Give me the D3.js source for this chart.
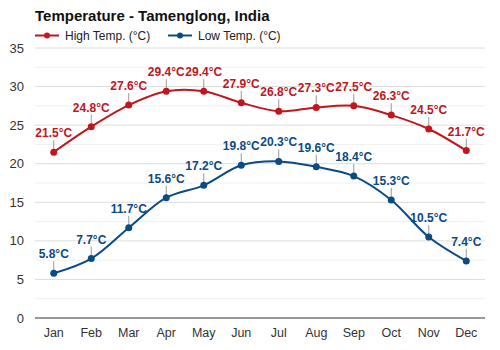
<!DOCTYPE html>
<html><head><meta charset="utf-8">
<script src="https://cdn.jsdelivr.net/npm/d3@7"></script>
<style>body{margin:0;background:#fff}svg{display:block;font-family:Arial,"Liberation Sans",sans-serif}</style>
</head><body>
<svg id="c" width="500" height="350"></svg>
<script>
const months = ["Jan","Feb","Mar","Apr","May","Jun","Jul","Aug","Sep","Oct","Nov","Dec"];
const highTemps = [21.5,24.8,27.6,29.4,29.4,27.9,26.8,27.3,27.5,26.3,24.5,21.7];
const lowTemps = [5.8,7.7,11.7,15.6,17.2,19.8,20.3,19.6,18.4,15.3,10.5,7.4];
const yTicks = [0,5,10,15,20,25,30,35];
const minorTicks = [2.5,7.5,12.5,17.5,22.5,27.5,32.5];
const seriesNames = ["High Temp. (°C)","Low Temp. (°C)"];
const colors = ["#c0161e","#0b4a82"];

(function(){
const svg = d3.select("#c");
const pl = 35, pr = 485, pt = 48, pb = 318;
const x = d3.scaleBand().domain(months).range([pl, pr]);
const y = d3.scaleLinear().domain([0,35]).range([pb, pt]);
const cx = m => x(m) + x.bandwidth()/2;

svg.append("rect").attr("width",500).attr("height",350).attr("fill","#fff");

svg.append("g").selectAll("line").data(minorTicks).join("line")
  .attr("x1",pl).attr("x2",pr).attr("y1",d=>y(d)).attr("y2",d=>y(d))
  .attr("stroke","#f0f0f0").attr("stroke-width",1);
svg.append("g").selectAll("line").data(yTicks.filter(d=>d>0)).join("line")
  .attr("x1",pl).attr("x2",pr).attr("y1",d=>y(d)).attr("y2",d=>y(d))
  .attr("stroke","#dcdcdc").attr("stroke-width",1);
svg.append("line").attr("x1",pl).attr("x2",pr).attr("y1",y(0)).attr("y2",y(0))
  .attr("stroke","#333").attr("stroke-width",1.2);

svg.append("g").selectAll("text").data(yTicks).join("text")
  .attr("x",24).attr("y",d=>y(d)+4.5).attr("text-anchor","end")
  .attr("font-size",13).attr("fill","#333").text(d=>d);
svg.append("g").selectAll("text").data(months).join("text")
  .attr("x",d=>cx(d)).attr("y",337).attr("text-anchor","middle")
  .attr("font-size",12.5).attr("fill","#333").text(d=>d);

svg.append("text").attr("x",35).attr("y",20.5).attr("font-size",15).attr("font-weight","bold")
  .attr("fill","#111").text("Temperature - Tamenglong, India");

const legX = [35,168];
seriesNames.forEach((n,i)=>{
  const g = svg.append("g");
  g.append("line").attr("x1",legX[i]).attr("x2",legX[i]+24).attr("y1",35.5).attr("y2",35.5)
    .attr("stroke",colors[i]).attr("stroke-width",2);
  g.append("circle").attr("cx",legX[i]+12).attr("cy",35.5).attr("r",3).attr("fill",colors[i]);
  g.append("text").attr("x",legX[i]+30).attr("y",40).attr("font-size",12).attr("fill","#222").text(n);
});

const line = d3.line().x((d,i)=>cx(months[i])).y(d=>y(d)).curve(d3.curveCatmullRom.alpha(0.5));
[highTemps, lowTemps].forEach((data,si)=>{
  const g = svg.append("g");
  g.selectAll("line.tk").data(data).join("line").attr("class","tk")
    .attr("x1",(d,i)=>cx(months[i])).attr("x2",(d,i)=>cx(months[i]))
    .attr("y1",d=>y(d)).attr("y2",d=>y(d)-12)
    .attr("stroke","#999").attr("stroke-width",1);
  g.append("path").datum(data).attr("d",line).attr("fill","none")
    .attr("stroke",colors[si]).attr("stroke-width",2);
  g.selectAll("circle").data(data).join("circle")
    .attr("cx",(d,i)=>cx(months[i])).attr("cy",d=>y(d)).attr("r",3.5).attr("fill",colors[si]);
  g.selectAll("text").data(data).join("text")
    .attr("x",(d,i)=>cx(months[i])).attr("y",d=>y(d)-15).attr("text-anchor","middle")
    .attr("font-size",12).attr("font-weight","bold").attr("fill",colors[si])
    .text(d=>d.toFixed(1)+"°C");
});
})();
</script>
</body></html>
